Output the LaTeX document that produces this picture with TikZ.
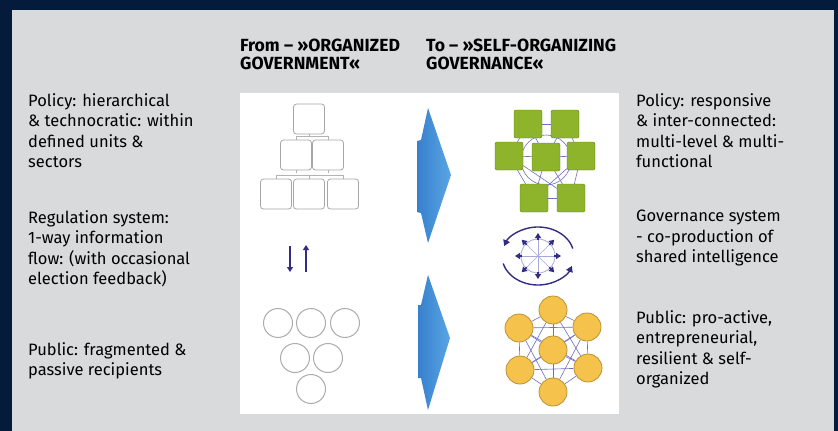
\documentclass[tikz,border=0pt]{standalone}
\usepackage{fontspec}
\setmainfont{Fira Sans}
\newfontfamily\headfont{Fira Sans}
\usetikzlibrary{arrows.meta,backgrounds}
\definecolor{navy}{RGB}{5,27,60}
\definecolor{panel}{RGB}{217,218,220}
\definecolor{indigo}{RGB}{50,45,130}
\definecolor{leaf}{RGB}{141,180,43}
\definecolor{gold}{RGB}{245,195,75}
\definecolor{mesh}{RGB}{110,110,195}
\definecolor{arrowdark}{RGB}{55,128,205}
\definecolor{arrowlight}{RGB}{90,165,228}
\begin{document}
\begin{tikzpicture}[x=1pt,y=-1pt,
                sidetext/.style={
                    anchor=north west,
                    inner sep=0pt,
                    align=left,
                    font=\fontsize{16.5}{20.6}\selectfont
                },
                headtext/.style={
                    anchor=north west,
                    inner sep=0pt,
                    align=left,
                    font=\headfont\bfseries\fontsize{17.6}{18}\selectfont
                },
                orgbox/.style={
                    draw=gray!70,
                    rectangle,
                    rounded corners=3pt,
                    line width=0.8pt,
                    minimum width=31pt,
                    minimum height=30pt
                },
                orgline/.style={draw=gray!60, line width=0.6pt},
                ring/.style={
                    circle,
                    draw=gray!65,
                    line width=1pt,
                    minimum size=29pt
                },
                greenbox/.style={
                    rectangle,
                    rounded corners=2pt,
                    fill=leaf,
                    draw=leaf!70!black,
                    minimum size=28pt
                },
                goldbubble/.style={
                    circle,
                    fill=gold,
                    draw=gold!75!black,
                    line width=0.8pt,
                    minimum size=28pt
                },
                meshline/.style={draw=mesh, line width=0.6pt},
                bigarrow/.style={left color=arrowdark, right color=arrowlight, draw=none},
                flow/.style={
                    draw=indigo,
                    line width=1.6pt,
                    -{Triangle[length=5pt,width=6pt]}
                }
            ]
    \useasboundingbox (0,0) rectangle (838,431);
    \begin{pgfonlayer}{background}
        \fill[navy] (0,0) rectangle (838,431);
        \fill[panel] (12,10) rectangle (834,431);
        \fill[white] (240,93) rectangle (619,414);
    \end{pgfonlayer}

    % headings
    \node[headtext] (from) at (240,39) {From – »ORGANIZED\\GOVERNMENT«};
    \node[headtext] (to)   at (426,39) {To – »SELF-ORGANIZING\\GOVERNANCE«};

    % left column
    \node[sidetext] (oldpolicy) at (28,93)  {Policy: hierarchical\\\& technocratic: within\\defined units \&\\sectors};
    \node[sidetext] (oldreg)    at (28,210) {Regulation system:\\1-way information\\flow: (with occasional\\election feedback)};
    \node[sidetext] (oldpub)    at (28,342) {Public: fragmented \&\\passive recipients};

    % right column
    \node[sidetext] (newpolicy) at (636,93)  {Policy: responsive\\\& inter-connected:\\multi-level \& multi-\\functional};
    \node[sidetext] (newgov)    at (636,210) {Governance system\\- co-production of\\shared intelligence};
    \node[sidetext] (newpub)    at (636,310) {Public: pro-active,\\entrepreneurial,\\resilient \& self-\\organized};

    % hierarchy
    \node[orgbox] (h1) at (309,119) {};
    \node[orgbox] (h2) at (296,155) {};
    \node[orgbox] (h3) at (328,155) {};
    \node[orgbox] (h4) at (276,194) {};
    \node[orgbox] (h5) at (309,194) {};
    \node[orgbox] (h6) at (343,194) {};
    \draw[orgline] (h1.south) -- ++(0,3);
    \draw[orgline] (h2.north) -- ++(0,-3) -| (h3.north);
    \draw[orgline] (h4.north) -- ++(0,-3) -| (h6.north);
    \draw[orgline] (h5.north) -- ++(0,-3);
    \draw[orgline] (h2.south) -- ++(0,3);
    \draw[orgline] (h3.south) -- ++(0,3);

    % one-way flow
    \coordinate (dtop) at (290,246);
    \coordinate (dbot) at (290,272);
    \coordinate (utop) at (306,245);
    \coordinate (ubot) at (306,272);
    \draw[flow] (dtop) -- (dbot);
    \draw[flow] (ubot) -- (utop);

    % fragmented public
    \node[ring] (c1) at (278,323) {};
    \node[ring] (c2) at (311,323) {};
    \node[ring] (c3) at (345,323) {};
    \node[ring] (c4) at (295,358) {};
    \node[ring] (c5) at (328,358) {};
    \node[ring] (c6) at (311,389) {};

    % transition arrows
    \shade[bigarrow] (428,108) -- (451,175) -- (428,243) -- (421,213) -- (417,212)
        -- (417,141) -- (421,140) -- cycle;
    \shade[bigarrow] (428,275) -- (450,338) -- (428,410) -- (421,378) -- (418,378)
        -- (418,305) -- (421,305) -- cycle;

    % networked policy
    \node[greenbox] (g1) at (528,124) {};
    \node[greenbox] (g2) at (565,124) {};
    \node[greenbox] (g3) at (509,156) {};
    \node[greenbox] (g4) at (546,157) {};
    \node[greenbox] (g5) at (581,156) {};
    \node[greenbox] (g6) at (534,198) {};
    \node[greenbox] (g7) at (571,198) {};
    \begin{pgfonlayer}{background}
        \draw[meshline] (546,160) circle (25);
        \foreach \a/\b in {g1/g2,g1/g3,g1/g4,g2/g4,g2/g5,g3/g4,g4/g5,g3/g6,g4/g6,g4/g7,g5/g7,g6/g7,g3/g7,g5/g6}
            \draw[meshline] (\a) -- (\b);
    \end{pgfonlayer}

    % shared intelligence cycle
    \coordinate (hub) at (538,256);
    \draw[draw=mesh!60, line width=0.8pt] (hub) circle (17);
    \foreach \a in {0,45,...,315}
        \draw[draw=mesh!60, line width=0.6pt] (hub) -- ++(\a:17);
    \foreach \a in {0,45,...,315}
        \draw[indigo, line width=1.6pt, -{Triangle[length=5pt,width=6pt]}] (hub) ++(\a:16) -- ++(\a:7);
    \draw[indigo, line width=1.4pt, -{Triangle[length=6pt,width=7pt]}]
        (hub) ++(165:36 and 29) arc[start angle=165, end angle=20, x radius=36, y radius=29];
    \draw[indigo, line width=1.4pt, -{Triangle[length=6pt,width=7pt]}]
        (hub) ++(345:36 and 29) arc[start angle=345, end angle=200, x radius=36, y radius=29];

    % self-organized public
    \node[goldbubble] (y1) at (553,310) {};
    \node[goldbubble] (y2) at (519,328) {};
    \node[goldbubble] (y3) at (587,327) {};
    \node[goldbubble] (y4) at (553,350) {};
    \node[goldbubble] (y5) at (520,370) {};
    \node[goldbubble] (y6) at (588,368) {};
    \node[goldbubble] (y7) at (553,392) {};
    \begin{pgfonlayer}{background}
        \foreach \a/\b in {y1/y2,y1/y3,y2/y5,y3/y6,y5/y7,y6/y7,y4/y1,y4/y2,y4/y3,y4/y5,y4/y6,y4/y7,y2/y3,y5/y6,y2/y6,y3/y5,y1/y5,y1/y6,y2/y7,y3/y7}
            \draw[meshline] (\a) -- (\b);
    \end{pgfonlayer}
\end{tikzpicture}
\end{document}
